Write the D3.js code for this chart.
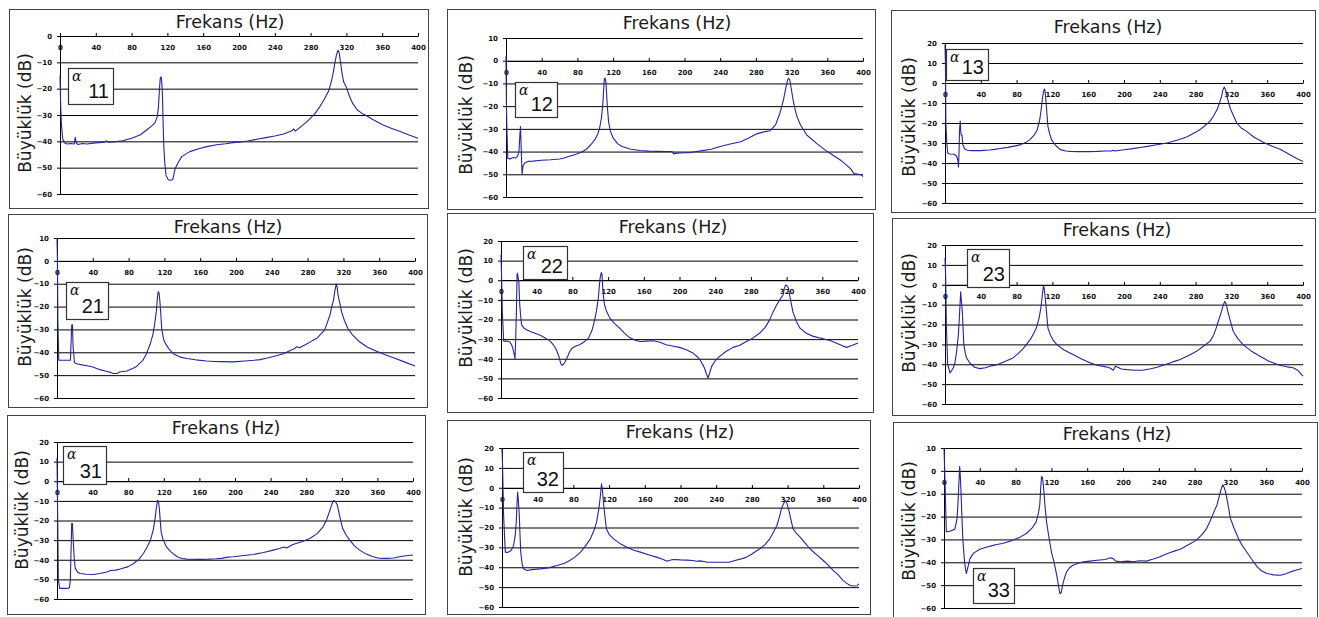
<!DOCTYPE html>
<html><head><meta charset="utf-8">
<script src="https://cdn.jsdelivr.net/npm/d3@7"></script>
<style>body{margin:0;background:#fff}svg{display:block}</style>
</head><body>
<svg id="c" width="1319" height="617"></svg>
<script>
// ---------- data ----------
const freqTicks = [0,40,80,120,160,200,240,280,320,360,400];
const titleText = "Frekans (Hz)";
const yLabelText = "Büyüklük (dB)";
const legendLabels = ["11","12","13","21","22","23","31","32","33"];
const yMaxes = [0,10,20,10,20,20,20,20,10];
const yMin = -60;

const a11 = [[0,-15],[0.8,-27],[1.5,-33],[3,-39],[5,-40.5],[8,-41],[12,-40.8],[16,-41],[17,-38.5],[18,-40.5],[20,-41.2],[25,-40.8],[30,-41],[40,-40.6],[50,-40.3],[52,-39.8],[54,-40.3],[60,-40.2],[70,-39.8],[80,-38.8],[90,-37.5],[96.7,-35.7],[102,-34.3],[106,-33],[108.7,-30.6],[110,-27],[111,-21],[112,-16],[113,-15.5],[113.8,-18],[114.5,-23],[115.2,-33],[116,-42],[117,-48],[118.5,-53],[121,-54.6],[124,-54.8],[126,-54.5],[127,-53],[128.5,-50.5],[130,-49.5],[133,-47.5],[136,-45.8],[145,-43.9],[155,-42.8],[164,-42],[175,-41.3],[185,-40.9],[193,-40.5],[200,-40.3],[210,-39.9],[220,-39.2],[230,-38.6],[240,-38],[250,-37.2],[259,-36],[261,-35.3],[263,-36.1],[270,-34.2],[275,-32.8],[280,-31.2],[285,-29.4],[290,-27],[295,-24.2],[300,-21],[303,-17.5],[305,-14.5],[307,-10.5],[309,-7],[310.7,-5.4],[312,-6.5],[313.5,-10],[315,-14],[317,-17.5],[320,-19.5],[323,-22.5],[327,-25.6],[332,-28],[337,-29.3],[342,-30.2],[350,-31.8],[361,-33.8],[370,-35],[380,-36.3],[390,-37.6],[400,-38.8]];

const a12 = [[0,2],[0.5,-20],[1,-30],[2,-43],[5,-43.2],[8,-42.6],[11,-42.8],[13,-42],[14.5,-40],[15.5,-33],[16.2,-29],[17,-38],[18,-50],[19,-46.5],[21,-45],[25,-44.3],[30,-44.2],[40,-43.8],[50,-43.6],[60,-43.3],[65,-42.8],[70,-42.2],[75,-41.6],[80,-41],[85,-40.2],[90,-39],[95,-37],[100,-34.5],[103,-32],[105,-29.5],[107,-25],[108.5,-19],[109.5,-12],[110.2,-8],[111,-7.7],[111.8,-9],[112.5,-13],[113.5,-20],[115,-27],[117,-31],[120,-34],[125,-36.5],[130,-37.8],[140,-39],[150,-39.5],[160,-39.8],[170,-39.9],[180,-40],[186,-40],[188,-41],[190,-40.8],[195,-40.6],[200,-40.5],[205,-40.5],[210,-40.2],[220,-39.6],[230,-39],[240,-37.8],[250,-36.8],[263,-35.7],[272,-34],[281,-32.2],[290,-31.2],[296,-30.8],[302,-28.3],[307,-23],[311,-17],[313.5,-12],[315.5,-8.5],[316.7,-7.7],[318,-8.4],[319.5,-12],[321.6,-17.2],[324,-21.5],[326,-24.6],[330,-28.3],[337,-32.7],[348,-36.4],[360,-40],[375,-43.8],[386,-47.5],[390,-49.7],[395,-50],[398,-50.2],[400,-51]];

const a13 = [[0,19],[0.5,10],[1,-20],[2,-30],[3,-35],[5,-35.5],[10,-35.6],[13,-36.5],[14.5,-39],[15,-42],[15.6,-36],[16.2,-24],[17,-19],[17.5,-23],[18,-26],[19,-26],[20,-31],[22,-33],[25,-33.6],[30,-33.8],[40,-33.8],[50,-33.5],[55,-33.2],[60,-32.9],[70,-32.2],[80,-31.3],[85,-30.8],[90,-29.8],[95,-28.3],[100,-25.8],[103,-23.5],[106,-18],[107.5,-13],[109,-7],[110.5,-3.5],[111.3,-3],[112,-5],[112.8,-9],[114,-16],[115,-21.7],[117,-25.5],[119,-28.3],[123,-31],[129,-33.3],[135,-34],[140,-34.2],[150,-34.3],[160,-34.3],[170,-34.2],[180,-34],[186,-34],[188,-33.6],[190,-34],[200,-33.4],[210,-32.8],[220,-32.1],[226,-31.7],[235,-31],[248,-30],[260,-28.5],[270,-27],[280,-24.6],[285,-23.3],[290,-21.5],[296,-19.2],[300,-16.5],[304,-13.3],[307,-9.5],[309,-6.7],[310.5,-3.5],[312,-2],[313.5,-3.5],[315,-6.7],[317,-10],[319,-13],[321,-15],[326,-20],[331,-22.5],[337,-24.2],[345,-27],[356,-29.7],[365,-31.5],[375,-33.3],[385,-35.8],[393,-37.8],[400,-39.2]];

const a21 = [[0,10],[0.5,0],[1,-27],[2,-43.5],[5,-43.5],[10,-43.5],[15,-43.5],[15.8,-35],[16.5,-28],[17.3,-28],[18,-38],[18.6,-40],[19.5,-44.5],[22,-45],[28,-45.5],[35,-46],[40,-46.4],[48,-47.6],[55,-48.3],[60,-48.8],[63,-49.3],[67,-49.3],[70,-48.6],[78,-48.2],[85,-47],[89,-46.2],[92,-45],[96,-43.5],[100,-40.6],[104,-36.5],[107,-32.5],[109,-28],[111,-22],[112.2,-16],[113,-13.5],[114,-14],[115,-17.9],[116,-23.5],[117,-29.6],[118.5,-33],[120,-35.4],[125,-38.5],[130,-40.6],[137,-42],[145,-42.7],[155,-43.3],[167,-43.8],[175,-44],[185,-44.1],[197,-44.2],[210,-43.8],[220,-43.5],[227,-43.2],[235,-42.5],[245,-41.5],[253,-40.6],[260,-39.3],[265,-38.5],[268,-37.6],[271,-38],[278,-36.6],[285,-35],[290,-34],[296,-31.5],[299,-30.3],[302,-27],[305,-23.7],[307,-20],[309,-17.1],[310.5,-13],[312,-10.1],[313,-11.5],[314,-14.9],[316,-18.5],[318,-22.3],[321,-26],[325,-29.6],[330,-32.3],[338,-35.4],[347,-37.8],[357,-39.5],[366,-41],[376,-42.4],[388,-44.2],[400,-46]];

const a22 = [[0,13],[0.5,5],[1.5,-16],[3,-31],[6,-31],[10,-31.5],[12,-33],[14,-36],[15.7,-40],[16.5,-29.5],[17.3,-15],[18,2.7],[18.5,3.6],[19.3,1],[20,-1],[21,-12.5],[22,-18],[23,-22.7],[26,-24.5],[29,-25.3],[35,-26.5],[44,-28],[50,-29.5],[55,-31],[59,-33],[62,-35.4],[65,-39],[67,-42.5],[68.5,-43.4],[70,-42.8],[72,-41.4],[75,-38.5],[77,-36.3],[80,-34.5],[84,-33.5],[88,-32.9],[93,-31.5],[98,-29.5],[102,-25.5],[105,-20.2],[107,-15.5],[109,-9.2],[110,-4],[111,1],[112.3,3.9],[113.2,3],[114,-4],[115,-9],[116,-12.5],[118,-15.5],[122,-19.3],[127,-22],[133,-24.4],[138,-26.8],[144,-29.2],[150,-30.5],[156,-31.2],[163,-31],[171,-30.8],[178,-31.6],[185,-32.9],[192,-33.5],[200,-34.2],[207,-35.3],[215,-37.1],[220,-39],[223,-40.5],[226,-43],[228,-44.7],[230,-47.5],[232,-49.8],[234,-47],[236,-43.9],[240,-41],[245,-38.8],[252,-36.3],[260,-34.2],[267,-33.2],[275,-31.2],[282,-29.5],[290,-26.9],[296,-24],[301,-20.2],[305,-16],[309,-12.5],[313,-9.5],[316,-7.5],[317.5,-4],[319,-2.4],[320.5,-2.8],[322,-4],[324,-9],[327,-16],[331,-21],[335,-24.4],[342,-27],[350,-28.6],[361,-29.8],[370,-31],[380,-32.9],[387,-34.2],[393,-33.3],[400,-32]];

const a23 = [[0,13.4],[0.7,5],[1.5,-20],[3,-40],[5.6,-44.4],[7,-43.5],[9.3,-41.8],[11,-39.5],[13,-33.5],[15,-25],[16,-16.7],[16.8,-10],[17.5,-3.5],[18.3,-8],[19.3,-13.4],[20,-20],[21,-30],[22.5,-34],[24,-36.8],[28,-39.5],[33,-41.5],[39,-42.2],[45,-41.8],[52,-40.8],[58,-40.2],[65,-39],[70,-38],[76,-36.8],[82,-34.5],[87,-32.3],[91,-30.1],[96,-27],[99,-24.5],[102,-21.8],[105,-17],[107,-12],[108,-8.4],[109,-4],[110,-0.8],[110.8,-1.5],[112,-6.7],[113.3,-13],[115,-21.8],[118,-25.5],[121,-28],[125,-30.1],[133,-32.8],[143,-35.1],[152,-37.2],[162,-39.3],[170,-40.5],[180,-41.3],[185,-42],[188,-43],[190.5,-41],[193,-41.5],[197,-42.4],[203,-42.7],[212,-43],[221,-43],[230,-42.3],[237,-41.5],[244,-40.5],[252,-39.2],[258,-38.3],[262,-37.7],[268,-36.5],[275,-35],[281,-33.5],[288,-31.2],[296,-28.5],[300,-25.5],[303,-21.8],[306,-17.5],[309,-13.4],[311,-10],[312.6,-8.4],[314,-9.5],[316,-13.4],[319,-18.5],[322,-23.4],[327,-27],[333,-30.1],[342,-33.3],[352,-36],[362,-38.5],[374,-40.5],[382,-41.3],[389,-41.8],[394,-43],[400,-46]];

const a31 = [[0,12],[0.8,-20],[1.5,-50],[3,-54.6],[8,-54.6],[12,-54.6],[14,-54.2],[15,-50],[15.8,-35],[16.5,-21.5],[17.3,-21.5],[18,-28],[18.7,-34],[19.5,-40],[20.5,-44.4],[23,-46.2],[26,-47],[33,-47.4],[41,-47.5],[48,-47],[56,-46.2],[60,-45.5],[66,-45.3],[71,-44.7],[80,-43.5],[86,-41.9],[92,-39.8],[97,-36.8],[101,-33.8],[105,-30],[108,-25],[110,-19.8],[111.5,-14],[113,-9.7],[114,-10.5],[115,-13.9],[116,-20],[117,-25.8],[119,-29.5],[123,-33.4],[128,-36],[135,-38.5],[140,-39.4],[146,-39.7],[160,-39.8],[170,-39.7],[179,-39.5],[185,-39.3],[190,-38.8],[198,-38.5],[210,-37.8],[221,-37.3],[232,-36.3],[243,-35.1],[250,-34.3],[255,-33.5],[258,-34],[265,-32.2],[275,-30.8],[284,-29.2],[292,-26.8],[299,-23.2],[303,-19.5],[306,-15.6],[309,-11.5],[311,-9.7],[313,-10.5],[315,-12.2],[318,-18.5],[321,-24.1],[325,-27.5],[329,-30],[334,-32.8],[340,-35.1],[347,-37],[355,-38.5],[362,-39.2],[370,-39.3],[378,-39.1],[385,-38.5],[392,-38],[400,-37.6]];

const a32 = [[0,19.6],[0.7,10],[1.8,-14],[3.7,-32.4],[6,-32.6],[9,-32],[11,-31],[13,-29],[14.8,-24],[16,-17.3],[16.8,-8],[17.5,-2.2],[18.3,-6],[19.4,-14],[20.3,-25],[21,-32.4],[22.5,-38],[24,-40.8],[28,-41.6],[33,-41.2],[43,-40.8],[52,-40.3],[62,-39.1],[70,-38],[76,-36.6],[82,-34.8],[88,-32.4],[94,-29],[99,-25.7],[103,-21.5],[106,-17.3],[108,-12],[109,-8.9],[110.5,-3],[111.5,2],[112.5,-1],[114,-8.9],[115.5,-15],[117,-20.6],[120,-23.5],[125,-25.7],[132,-28],[140,-29.9],[147,-31.3],[155,-32.4],[165,-33.8],[173,-34.9],[180,-36],[185,-37],[188,-36.5],[192,-36.1],[200,-36.3],[207,-36.4],[214,-36.6],[218,-37],[222,-36.8],[229,-37.4],[240,-37.5],[250,-37.5],[255,-37.4],[262,-36.5],[268,-35.8],[274,-34.9],[280,-33.3],[285,-31.8],[289,-30.7],[295,-28.5],[300,-25.7],[304,-22.5],[308,-19],[311,-14.5],[313,-10.6],[315.5,-8],[317.6,-6.4],[319,-7.5],[321,-10.6],[323.5,-15.5],[326,-20.6],[330,-23],[334,-24.8],[340,-28],[345,-30.7],[352,-33.5],[360,-36.6],[366,-39.2],[371,-41.6],[377,-44],[382,-46.6],[386,-48],[390,-49.2],[395,-49.4],[398,-49.3],[400,-48.3]];

const a33 = [[0,10],[0.8,0],[1.8,-15],[2.6,-26.6],[6,-26.5],[9,-26],[12,-25.6],[13.5,-23],[14.6,-20.8],[15.5,-15],[16.4,-7.6],[17.5,1.9],[18.2,-2],[19,-9],[20,-20],[21,-29.6],[22,-35],[23,-39.8],[24,-43],[25,-44.9],[26.5,-42.5],[29,-38.4],[33,-36],[40,-34.3],[48,-33.3],[55,-32.6],[59,-32.2],[65,-31.8],[70,-31.2],[77,-30.3],[85,-29],[92,-27.4],[98,-25.2],[103,-22.3],[105.5,-18.5],[107,-14.9],[108,-8],[109,-2.5],[110,-3],[111,-6],[111.6,-9.1],[113,-16],[114.6,-22.3],[117,-28.5],[120,-35.4],[123,-40],[126,-45.7],[128,-50.5],[129.5,-53.7],[131,-53.2],[132.5,-50],[134.5,-47],[137,-44.2],[140,-42.5],[144,-41.3],[150,-40.4],[156,-39.8],[163,-39.5],[171,-39.1],[180,-38.8],[186,-38],[189,-38.4],[192,-39.5],[197,-39.8],[205,-39.5],[212,-39.8],[218,-39.3],[226,-39.5],[233,-38.7],[240,-37.8],[245,-36.9],[252,-35.8],[258,-35],[264,-34.3],[270,-33],[277,-31.5],[282,-30.3],[288,-28],[293,-25.5],[297,-22.3],[301,-18.5],[305,-14.9],[308,-10.5],[310,-7.6],[311.5,-6.1],[313,-7.2],[314.5,-9.1],[317,-14],[320,-20.8],[324,-25],[329,-29.6],[333,-32.5],[338,-35.4],[344,-38.8],[350,-42],[355,-43.8],[361,-44.9],[368,-45.5],[376,-45.7],[382,-45],[387,-44.2],[393,-43.5],[400,-42.7]];

const series = [a11,a12,a13,a21,a22,a23,a31,a32,a33];

// ---------- layout (pixels) ----------
const layouts = [
 {box:[9,9,428,208],   x:[60,418],  y:[194,36],  title:[230,28],  ylab:[31,113],  leg:[68,68,45,36]},
 {box:[447,9,875,209], x:[506,863], y:[197,38],  title:[677,29],  ylab:[472,115], leg:[515,82,42,35]},
 {box:[891,10,1315,212],x:[945,1303],y:[203,43], title:[1108,33], ylab:[915,117], leg:[946,49,42,31]},
 {box:[8,214,427,407], x:[57,415],  y:[398,238], title:[228,233], ylab:[31,307],  leg:[66,282,42,37]},
 {box:[447,213,873,412],x:[501,858],y:[398,241], title:[673,233], ylab:[472,308], leg:[523,246,44,33]},
 {box:[892,218,1315,415],x:[945,1303],y:[404,245],title:[1117,236],ylab:[915,313], leg:[967,249,42,38]},
 {box:[7,415,425,614], x:[57,413],  y:[599,442], title:[226,434], ylab:[28,510],  leg:[63,446,43,38]},
 {box:[447,420,870,614],x:[502,859],y:[607,448], title:[680,438], ylab:[472,517], leg:[523,452,40,40]},
 {box:[893,422,1317,622],x:[944,1302],y:[608,448],title:[1117,440],ylab:[915,521], leg:[973,568,41,35]}
];

const svg = d3.select("#c");
const lineColor = "#2424a4";

layouts.forEach((L, i) => {
  const g = svg.append("g");
  const [bx0,by0,bx1,by1] = L.box;
  g.append("rect").attr("x",bx0+0.5).attr("y",by0+0.5).attr("width",bx1-bx0).attr("height",by1-by0)
    .attr("fill","#fff").attr("stroke","#444").attr("stroke-width",1);

  const x = d3.scaleLinear().domain([0,400]).range(L.x);
  const y = d3.scaleLinear().domain([yMin, yMaxes[i]]).range(L.y);
  const yTicks = d3.range(yMin, yMaxes[i] + 1, 10);
  const w = L.x[1] - L.x[0];

  g.append("g").attr("transform",`translate(${L.x[0]},0)`)
    .call(d3.axisLeft(y).tickValues(yTicks).tickSize(-w).tickFormat(""))
    .call(s => s.select(".domain").remove())
    .call(s => s.selectAll("line").attr("stroke","#000"));

  g.append("g").attr("transform",`translate(${L.x[0]},0)`)
    .call(d3.axisLeft(y).tickValues(yTicks).tickSize(3).tickSizeOuter(0).tickPadding(5))
    .call(s => s.select(".domain").attr("stroke","#000"))
    .call(s => s.selectAll("line").attr("stroke","#000"))
    .call(s => s.selectAll("text").attr("font-family","DejaVu Sans").attr("font-size",7)
      .attr("font-weight","bold").attr("fill","#111"));

  g.append("g").attr("transform",`translate(0,${Math.round(y(0))})`)
    .call(d3.axisBottom(x).tickValues(freqTicks).tickSize(-3).tickSizeOuter(0).tickPadding(9))
    .call(s => s.select(".domain").attr("stroke","#000"))
    .call(s => s.selectAll("line").attr("stroke","#000"))
    .call(s => s.selectAll("text").attr("font-family","DejaVu Sans").attr("font-size",7)
      .attr("font-weight","bold").attr("fill","#111"));

  const line = d3.line().x(d => x(d[0])).y(d => y(d[1])).curve(d3.curveLinear);
  g.append("path").datum(series[i]).attr("d", line)
    .attr("fill","none").attr("stroke",lineColor).attr("stroke-width",1.1)
    .attr("stroke-linejoin","round");

  g.append("text").attr("x",L.title[0]).attr("y",L.title[1]).attr("text-anchor","middle")
    .attr("font-family","DejaVu Sans").attr("font-size",17.5).attr("fill","#1a1a1a").text(titleText);

  g.append("text").attr("transform",`translate(${L.ylab[0]},${L.ylab[1]}) rotate(-90)`)
    .attr("text-anchor","middle").attr("font-family","DejaVu Sans").attr("font-size",17)
    .attr("fill","#1a1a1a").text(yLabelText);

  const [lx,ly,lw,lh] = L.leg;
  g.append("rect").attr("x",lx+0.5).attr("y",ly+0.5).attr("width",lw).attr("height",lh)
    .attr("fill","#fff").attr("stroke","#333").attr("stroke-width",1.2);
  g.append("text").attr("x",lx+4).attr("y",ly+13).attr("font-family","DejaVu Serif")
    .attr("font-style","italic").attr("font-size",14).attr("fill","#111").text("α");
  g.append("text").attr("x",lx+lw-4).attr("y",ly+lh-6).attr("text-anchor","end")
    .attr("font-family","Liberation Sans").attr("font-size",20).attr("fill","#111").text(legendLabels[i]);
});
</script>
</body></html>
